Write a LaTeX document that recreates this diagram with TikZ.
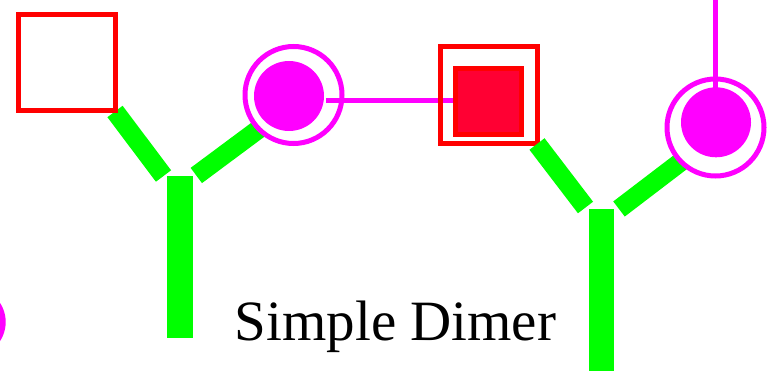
\documentclass[tikz,border=0pt]{standalone}
\usepackage{fontspec}
\setmainfont{Liberation Serif}
\definecolor{bondgreen}{HTML}{00FF00}
\definecolor{boxred}{HTML}{FF0000}
\definecolor{siteMag}{HTML}{FF00FF}
\definecolor{coreRed}{HTML}{FF0033}
\tikzset{
  redbox/.style={draw=boxred, line width=5pt, rectangle, inner sep=0pt},
  corebox/.style={draw=boxred, fill=coreRed, line width=5pt, rectangle, inner sep=0pt},
  stem/.style={fill=bondgreen, rectangle, inner sep=0pt},
  arm/.style={draw=bondgreen, line width=19pt},
  ring/.style={draw=siteMag, fill=white, line width=5pt, circle, inner sep=0pt, minimum size=97pt},
  disc/.style={fill=siteMag, circle, inner sep=0pt, minimum size=70pt},
  link/.style={draw=siteMag, line width=5pt},
}
\begin{document}
\begin{tikzpicture}[x=1pt,y=-1pt]
\clip (0,0) rectangle (776,382);
\fill[white] (0,0) rectangle (776,382);

% disc of a neighbouring monomer, cut by the left edge
\node[disc] (discZ) at (-29.3,322) {};

% ---- first monomer ----
\coordinate (a1s) at (115,111.5);
\coordinate (a1e) at (163.5,176);
\coordinate (b1s) at (196.3,175.5);
\coordinate (b1e) at (275,117);
\draw[arm] (a1s) -- (a1e);
\draw[arm] (b1s) -- (b1e);
\node[stem, minimum width=26pt, minimum height=162pt] (stemA) at (180,257) {};
\node[redbox, minimum width=97pt, minimum height=96pt] (boxA) at (67,62.5) {};
\node[ring] (ringA) at (293.5,95) {};
\node[disc] (discA) at (289,96) {};

% link between the two monomers
\coordinate (l1s) at (326,101);
\coordinate (l1e) at (454,101);
\draw[link] (l1s) -- (l1e);

% ---- second monomer ----
\node[redbox, minimum width=97.5pt, minimum height=97.5pt] (boxB) at (488.75,95.25) {};
\node[corebox, minimum width=65.7pt, minimum height=66.3pt] (coreB) at (488.7,101.7) {};
\coordinate (a2s) at (537,144);
\coordinate (a2e) at (585.5,207.5);
\coordinate (b2s) at (619,209);
\coordinate (b2e) at (695,151);
\draw[arm] (a2s) -- (a2e);
\draw[arm] (b2s) -- (b2e);
\node[stem, minimum width=25pt, minimum height=162pt] (stemB) at (601.5,290) {};
\node[ring] (ringB) at (715.5,127.5) {};
\node[disc] (discB) at (716,122.3) {};
\coordinate (topB) at (715.7,-5);
\coordinate (tipB) at (715.7,88);
\draw[draw=siteMag, line width=4.5pt] (topB) -- (tipB);

% title
\node[anchor=base, inner sep=0pt, font=\fontsize{57}{57}\selectfont] (title) at (395.5,340) {Simple Dimer};
\end{tikzpicture}
\end{document}
